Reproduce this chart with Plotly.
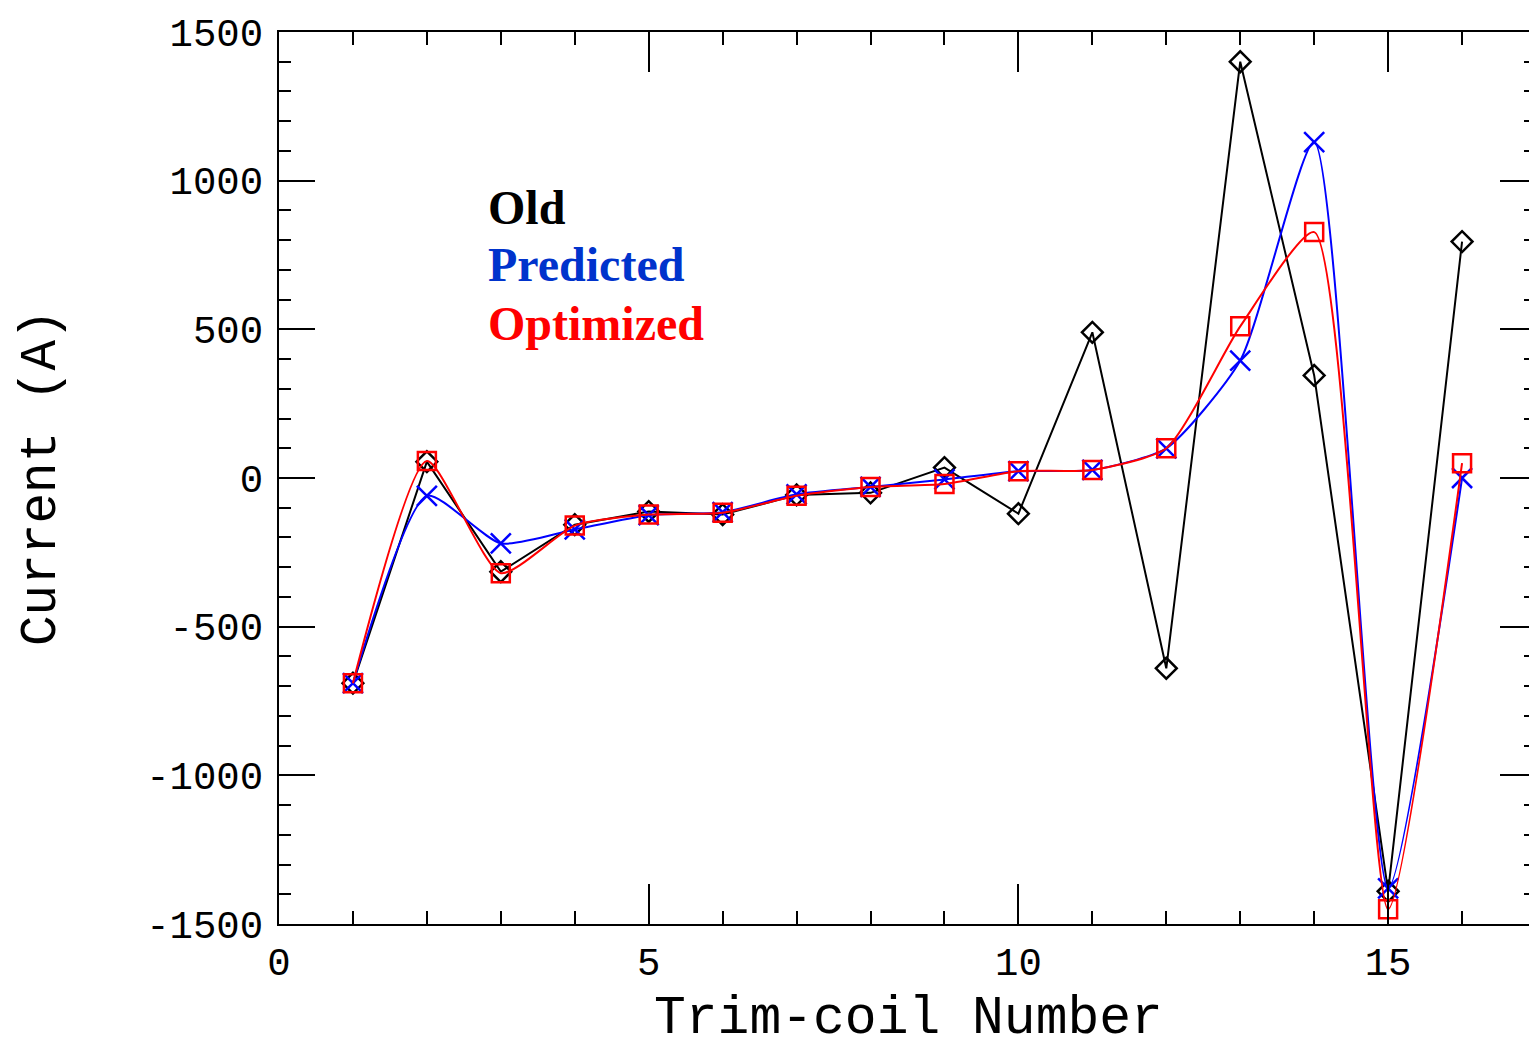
import plotly.graph_objects as go

coil = list(range(1, 17))
old = [-690, 55, -315, -157, -113, -123, -57, -50, 35, -120, 490, -640, 1400, 345, -1390, 795]
predicted = [-690, -60, -220, -173, -125, -115, -55, -30, -5, 23, 27, 100, 395, 1130, -1380, 0]
optimized = [-690, 57, -320, -160, -123, -117, -60, -30, -20, 23, 27, 100, 510, 827, -1450, 50]

x_ticks = [0, 5, 10, 15]
x_labels = ["0", "5", "10", "15"]
y_ticks = [-1500, -1000, -500, 0, 500, 1000, 1500]
y_labels = ["-1500", "-1000", "-500", "0", "500", "1000", "1500"]

BLUE = "#0000ff"
RED = "#ff0000"

fig = go.Figure()
fig.add_trace(go.Scatter(x=coil, y=old, mode="lines+markers",
                         line=dict(color="black", width=2),
                         marker=dict(symbol="diamond-open", size=16, color="black", line=dict(width=2.5))))
fig.add_trace(go.Scatter(x=coil, y=predicted, mode="lines+markers",
                         line=dict(color=BLUE, width=2, shape="spline", smoothing=0.6),
                         marker=dict(symbol="x-thin-open", size=20, color=BLUE, line=dict(width=2.5, color=BLUE))))
fig.add_trace(go.Scatter(x=coil, y=optimized, mode="lines+markers",
                         line=dict(color=RED, width=2, shape="spline", smoothing=0.6),
                         marker=dict(symbol="square-open", size=18, color=RED, line=dict(width=2.5))))

font_axis = "Liberation Mono"
fig.update_layout(
    width=1537, height=1047,
    margin=dict(l=271, r=9, t=24, b=131),
    paper_bgcolor="white", plot_bgcolor="white",
    showlegend=False,
    xaxis=dict(range=[0, 17], tickvals=x_ticks, ticktext=x_labels, ticks="inside", ticklen=40, tickwidth=2,
               tickcolor="black", showline=True, linecolor="black", linewidth=2, mirror="ticks",
               showgrid=False, zeroline=False, ticklabelstandoff=2, ticklabeloverflow="allow", automargin=False,
               minor=dict(dtick=1, tick0=0, ticks="inside", ticklen=13, tickwidth=2, tickcolor="black", showgrid=False),
               tickfont=dict(family=font_axis, size=39, color="black")),
    yaxis=dict(range=[-1500, 1500], tickvals=y_ticks, ticktext=y_labels, ticks="inside", ticklen=36, tickwidth=2,
               tickcolor="black", showline=True, linecolor="black", linewidth=2, mirror="ticks",
               showgrid=False, zeroline=False, ticklabelstandoff=6, ticklabeloverflow="allow", automargin=False,
               minor=dict(dtick=100, tick0=0, ticks="inside", ticklen=12, tickwidth=2, tickcolor="black", showgrid=False),
               tickfont=dict(family=font_axis, size=39, color="black")),
)

fig.add_annotation(x=0.501, y=0, xref="paper", yref="paper", text="Trim-coil Number", showarrow=False,
                   xanchor="center", yanchor="middle", yshift=-95,
                   font=dict(family=font_axis, size=53, color="black"))
fig.add_annotation(x=0, y=0.5, xref="paper", yref="paper", text="Current (A)", showarrow=False,
                   xanchor="center", yanchor="middle", xshift=-238, textangle=-90,
                   font=dict(family=font_axis, size=51, color="black"))

labels = [("Old", "black", 910), ("Predicted", "#0033cc", 717), ("Optimized", RED, 520)]
for text, color, yv in labels:
    fig.add_annotation(x=2.8, y=yv, xref="x", yref="y", text=f"<b>{text}</b>", showarrow=False,
                       xanchor="left", yanchor="middle",
                       font=dict(family="Liberation Serif", size=48, color=color))

fig.write_html("out.html")
